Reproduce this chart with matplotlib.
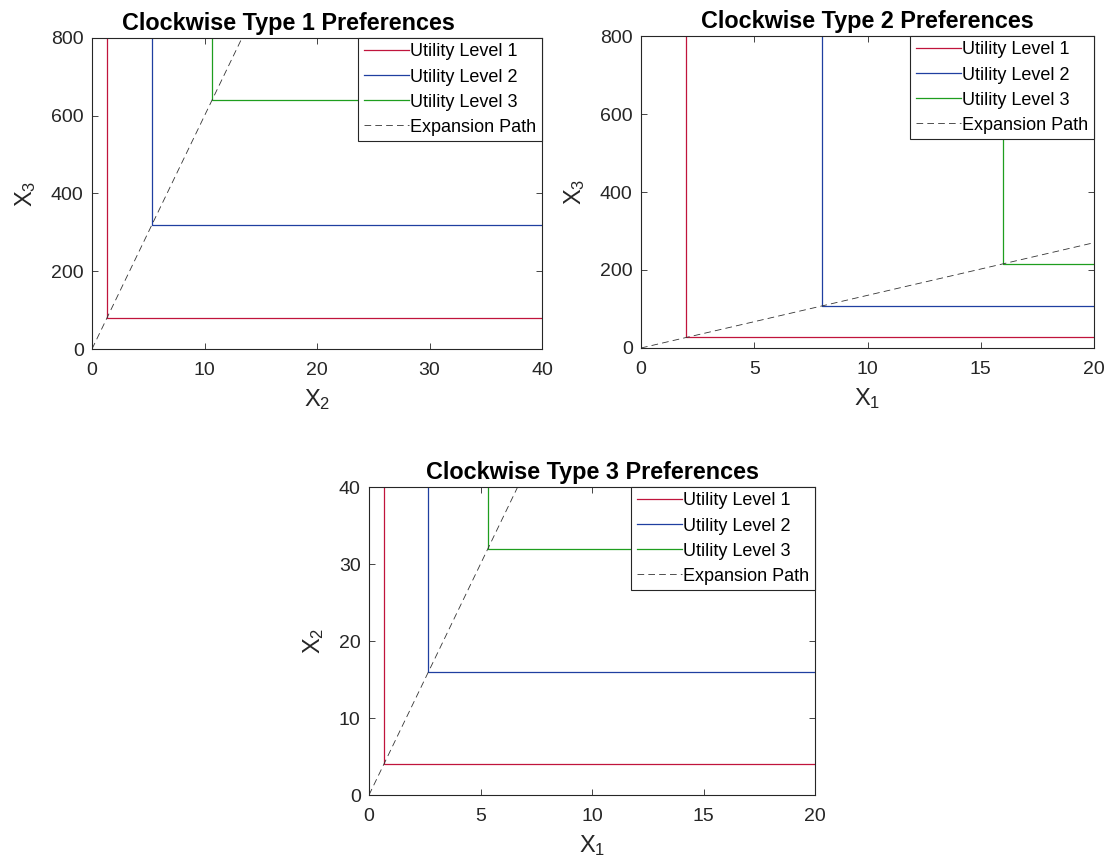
import matplotlib
matplotlib.use("Agg")
import matplotlib.pyplot as plt
import numpy as np

plt.rcParams['font.family'] = ['Liberation Sans', 'DejaVu Sans']
plt.rcParams['mathtext.default'] = 'regular'

# Panel 1: X2 vs X3
p1_x = [4/3, 16/3, 32/3]
p1_y = [80, 320, 640]
p1_ratio = 60
# Panel 2: X1 vs X3
p2_x = [2, 8, 16]
p2_y = [27, 108, 216]
p2_ratio = 13.5
# Panel 3: X1 vs X2
p3_x = [2/3, 8/3, 16/3]
p3_y = [4, 16, 32]
p3_ratio = 6

levels = ["Utility Level 1", "Utility Level 2", "Utility Level 3"]
colors = ["#C0143C", "#1F3FA0", "#1E9E1E"]

panels = [
    dict(title="Clockwise Type 1 Preferences", x=p1_x, y=p1_y, ratio=p1_ratio,
         xlim=40, ylim=800, xlabel=r"X$_2$", ylabel=r"X$_3$", tx=0.436,
         xticks=[0, 10, 20, 30, 40], yticks=[0, 200, 400, 600, 800],
         pos=[92/1110, 1-349/863, 450/1110, 311/863]),
    dict(title="Clockwise Type 2 Preferences", x=p2_x, y=p2_y, ratio=p2_ratio,
         xlim=20, ylim=800, xlabel=r"X$_1$", ylabel=r"X$_3$", tx=0.5,
         xticks=[0, 5, 10, 15, 20], yticks=[0, 200, 400, 600, 800],
         pos=[641/1110, 1-348/863, 453/1110, 312/863]),
    dict(title="Clockwise Type 3 Preferences", x=p3_x, y=p3_y, ratio=p3_ratio,
         xlim=20, ylim=40, xlabel=r"X$_1$", ylabel=r"X$_2$", tx=0.5,
         xticks=[0, 5, 10, 15, 20], yticks=[0, 10, 20, 30, 40],
         pos=[369/1110, 1-795/863, 446/1110, 308/863]),
]

fig = plt.figure(figsize=(11.1, 8.63), dpi=100)

for p in panels:
    ax = fig.add_axes(p["pos"])
    for xv, yv, c, lab in zip(p["x"], p["y"], colors, levels):
        ax.plot([xv, xv, p["xlim"] * 2], [p["ylim"] * 2, yv, yv], color=c, lw=0.9, label=lab)
    path_x = np.array([0, p["xlim"]])
    ax.plot(path_x, path_x * p["ratio"], color="#333333", lw=0.6, ls=(0, (8, 5)),
            label="Expansion Path")
    ax.set_xlim(0, p["xlim"])
    ax.set_ylim(0, p["ylim"])
    ax.set_xticks(p["xticks"])
    ax.set_yticks(p["yticks"])
    ax.tick_params(direction="in", top=True, right=True, labelsize=14,
                   colors="#262626", length=4, width=0.6)
    ax.tick_params(axis="x", pad=9)
    ax.tick_params(axis="y", pad=6)
    for s in ax.spines.values():
        s.set_color("#262626")
        s.set_linewidth(0.8)
    ax.set_title(p["title"], fontsize=16.8, fontweight="bold", pad=6, x=p["tx"])
    ax.set_xlabel(p["xlabel"], fontsize=17, color="#262626", labelpad=6)
    ax.set_ylabel(p["ylabel"], fontsize=17, color="#262626", labelpad=9)
    leg = ax.legend(loc="upper right", fontsize=13, fancybox=False, framealpha=1,
                    edgecolor="#262626", borderaxespad=0, handlelength=2.5,
                    handletextpad=0.1, labelspacing=0.45, borderpad=0.3)
    leg.get_frame().set_linewidth(0.8)

fig.savefig("out.png", dpi=100)
